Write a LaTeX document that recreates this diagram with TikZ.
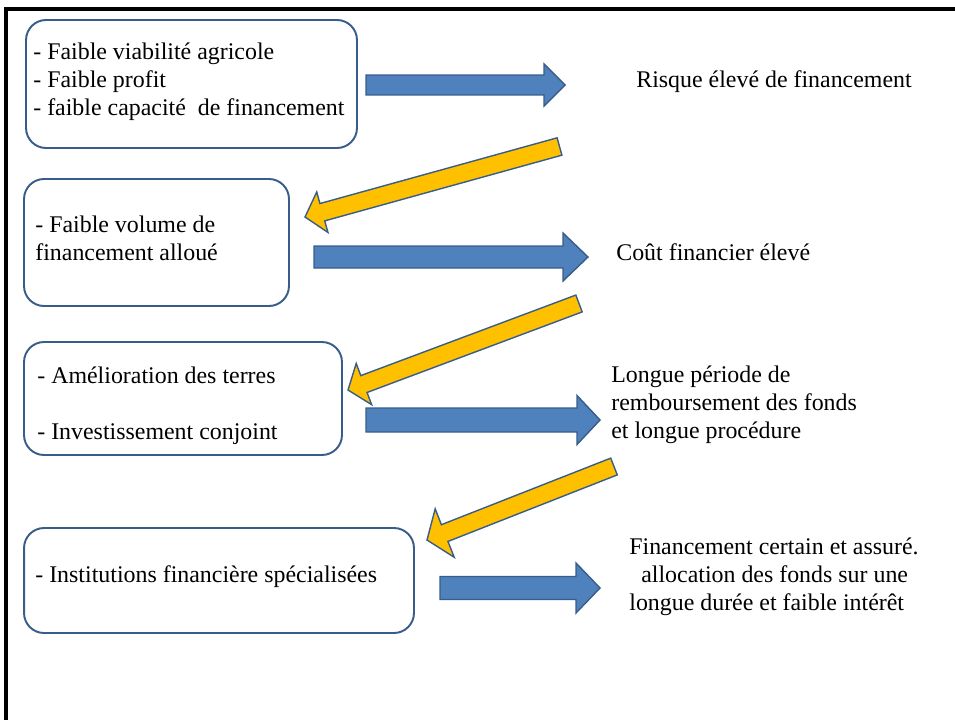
\documentclass[tikz,border=0pt]{standalone}
\usepackage{fontspec}
\setmainfont{Liberation Serif}
\usetikzlibrary{calc}
\definecolor{officeblue}{RGB}{79,129,189}
\definecolor{officeline}{RGB}{56,93,138}
\definecolor{officegold}{RGB}{255,192,0}

% block arrow: style, tail, tip, half shaft, half head, head length
\newcommand{\fatarrow}[6]{%
  \coordinate (hb) at ($(#3)!#6!(#2)$);
  \draw[#1] ($(#2)!#4!90:(#3)$) -- ($(hb)!#4!90:(#3)$) -- ($(hb)!#5!90:(#3)$) -- (#3)
    -- ($(hb)!#5!-90:(#3)$) -- ($(hb)!#4!-90:(#3)$) -- ($(#2)!#4!-90:(#3)$) -- cycle;
}

\begin{document}
\begin{tikzpicture}[x=0.02cm, y=-0.02cm,
    box/.style={draw=officeline, line width=1.1pt, rounded corners=0.4cm, inner sep=0},
    txt/.style={inner sep=0, align=left, anchor=base west, font=\fontsize{13.6}{15.9}\selectfont},
    bluearrow/.style={fill=officeblue, draw=officeline, line width=0.8pt},
    goldarrow/.style={fill=officegold, draw=officeline, line width=0.8pt},
    frame/.style={line width=2pt},
]
\useasboundingbox (0,0) rectangle (955,720);

% Frame
\draw[frame] (955,9) -- (6,9) -- (6,720);

% Boxes
\node[box, minimum width=6.62cm, minimum height=2.56cm] (viab) at (191.5,84) {};
\node[box, minimum width=5.3cm, minimum height=2.54cm] (volume) at (156.5,242.5) {};
\node[box, minimum width=6.36cm, minimum height=2.26cm] (terres) at (183,398.5) {};
\node[box, minimum width=7.8cm, minimum height=2.1cm] (instit) at (219,580.5) {};

% Box texts (base = last line)
\node[txt] (viabtxt) at (33,115) {- Faible viabilité agricole\\- Faible profit\\- faible capacité~ de financement};
\node[txt] (volumetxt) at (35,260) {- Faible volume de\\financement alloué};
\node[txt] (terrestxt) at (37,439) {- Amélioration des terres\\[15.9pt]- Investissement conjoint};
\node[txt] (instittxt) at (35,582) {- Institutions financière spécialisées};

% Consequences
\node[txt] (risque) at (636,87) {Risque élevé de financement};
\node[txt] (cout) at (616,260) {Coût financier élevé};
\node[txt] (periode) at (611,438) {Longue période de\\remboursement des fonds\\et longue procédure};
\node[txt] (assure) at (629,610) {Financement certain et assuré.\\\hspace*{6.8pt}allocation des fonds sur une\\longue durée et faible intérêt};

% Arrow ends
\coordinate (b1s) at (366,85);    \coordinate (b1e) at (565,85);
\coordinate (b2s) at (314,257);   \coordinate (b2e) at (588,257);
\coordinate (b3s) at (366,420);   \coordinate (b3e) at (600,420);
\coordinate (b4s) at (440,588);   \coordinate (b4e) at (600,588);
\coordinate (g1s) at (559.5,146.5); \coordinate (g1e) at (305,217);
\coordinate (g2s) at (579,303.5);   \coordinate (g2e) at (348,390);
\coordinate (g3s) at (614,466.5);   \coordinate (g3e) at (427,540);

% Arrows
\fatarrow{bluearrow}{b1s}{b1e}{0.2cm}{0.42cm}{0.42cm}
\fatarrow{bluearrow}{b2s}{b2e}{0.22cm}{0.48cm}{0.5cm}
\fatarrow{bluearrow}{b3s}{b3e}{0.24cm}{0.49cm}{0.46cm}
\fatarrow{bluearrow}{b4s}{b4e}{0.23cm}{0.5cm}{0.48cm}
\fatarrow{goldarrow}{g1s}{g1e}{0.18cm}{0.42cm}{0.36cm}
\fatarrow{goldarrow}{g2s}{g2e}{0.18cm}{0.44cm}{0.34cm}
\fatarrow{goldarrow}{g3s}{g3e}{0.18cm}{0.52cm}{0.38cm}

\end{tikzpicture}
\end{document}
